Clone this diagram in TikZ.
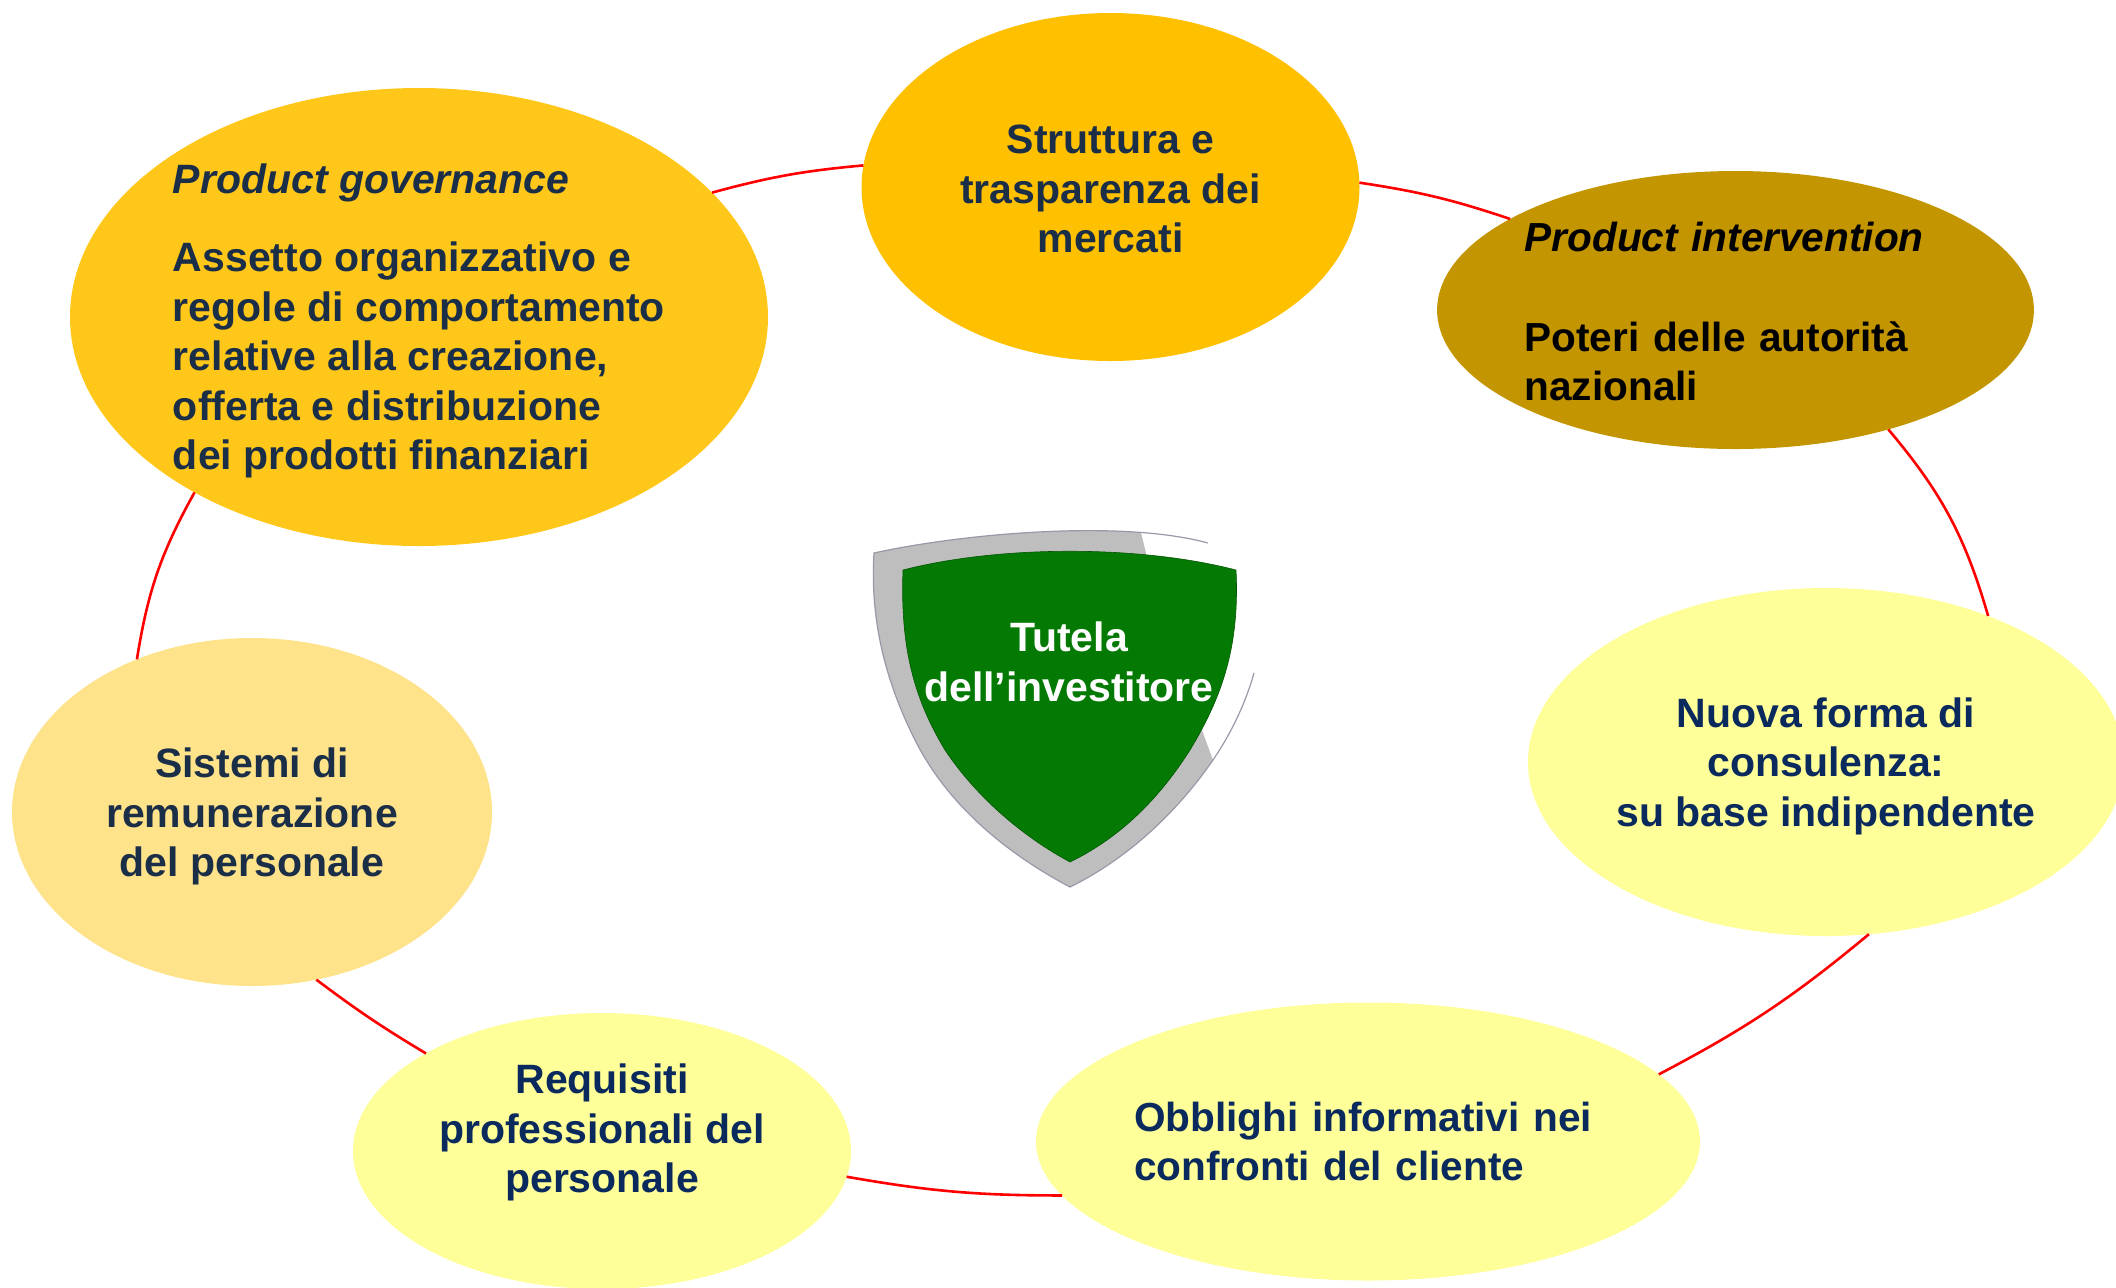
\documentclass[tikz,border=0pt]{standalone}
\usepackage{fontspec}
\setmainfont{Liberation Sans}
\usepackage{xcolor}
\usetikzlibrary{shapes.geometric}
\newcommand*{\topstrut}[1]{\rule{0pt}{#1}}
\newcommand*{\slimfont}{\fontsize{20.3}{24.8}\selectfont\bfseries}
\definecolor{govfill}{HTML}{FFC71A}
\definecolor{strufill}{HTML}{FFC000}
\definecolor{intfill}{HTML}{C39500}
\definecolor{palefill}{HTML}{FFFF99}
\definecolor{remfill}{HTML}{FFE38B}
\definecolor{slatetext}{HTML}{1B2E47}
\definecolor{navytext}{HTML}{0A2A5E}
\definecolor{shieldgray}{HTML}{BEBEBE}
\definecolor{shieldline}{HTML}{9A98A8}
\definecolor{shieldgreen}{HTML}{047A04}
\tikzstyle{bubble}=[shape=ellipse, inner sep=0pt, outer sep=0pt, align=center, text=navytext, font=\fontsize{20.5}{24.8}\selectfont\bfseries]
\tikzstyle{ringline}=[draw=red, line width=1.3pt]

\begin{document}
\begin{tikzpicture}[x=0.5pt,y=0.5pt]
\useasboundingbox (0,0) rectangle (2116,-1287);

\node [bubble, fill=govfill, text=slatetext, align=left, minimum width=349pt, minimum height=229pt] (gov) at (419,-317) {\topstrut{19pt}\textit{Product governance}\\[14.2pt]Assetto organizzativo e\\regole di comportamento\\relative alla creazione,\\offerta e distribuzione\\dei prodotti finanziari};
\node [bubble, fill=strufill, text=slatetext, minimum width=249pt, minimum height=174pt] (stru) at (1110.5,-187) {\topstrut{16.5pt}Struttura e\\trasparenza dei\\mercati};
\node [bubble, fill=intfill, text=black, font=\slimfont, align=left, text width=211pt, minimum width=298pt, minimum height=139pt] (int) at (1735.5,-310) {\topstrut{16.5pt}\textit{Product intervention}\\[24.8pt]Poteri delle autorità\\nazionali};
\node [bubble, fill=palefill, minimum width=298pt, minimum height=174pt] (cons) at (1826,-762) {\topstrut{19pt}Nuova forma di\\consulenza:\\su base indipendente};
\node [bubble, fill=palefill, font=\slimfont, align=left, text width=234pt, minimum width=332pt, minimum height=139pt] (info) at (1368,-1141.5) {Obblighi informativi nei\\confronti del cliente};
\node [bubble, fill=palefill, minimum width=249pt, minimum height=138pt] (req) at (602,-1151) {Requisiti\\professionali del\\personale\\[-2pt]\mbox{}};
\node [bubble, fill=remfill, text=slatetext, minimum width=240pt, minimum height=174pt] (rem) at (252,-812) {\topstrut{19.5pt}Sistemi di\\remunerazione\\del personale};

\draw[ringline] (gov.23) to[bend left=5] (stru.175.5);
\draw[ringline] (stru.1) to[bend left=5] (int.158.5);
\draw[ringline] (int.-38.2) to[bend left=12] (cons.42);
\draw[ringline] (cons.-76.4) to[bend left=6] (info.13);
\draw[ringline] (info.190) to[bend left=5] (req.-6.5);
\draw[ringline] (req.151.5) to[bend left=3] (rem.-69.7);
\draw[ringline] (rem.127.5) to[bend left=10] (gov.218.4);

% shield
\fill[shieldgray] (874,-553) .. controls (941,-538) and (1053,-526) .. (1141,-532.5) -- (1146,-553) -- (1203,-733) -- (1213,-760)
  .. controls (1175,-815) and (1125,-860) .. (1070,-887) .. controls (1000,-850) and (945,-800) .. (915,-740)
  .. controls (885,-680) and (870,-620) .. (874,-553) -- cycle;
\draw[shieldline, line width=0.6pt] (1213,-760) .. controls (1175,-815) and (1125,-860) .. (1070,-887) .. controls (1000,-850) and (945,-800) .. (915,-740)
  .. controls (885,-680) and (870,-620) .. (874,-553) .. controls (960,-534) and (1120,-519) .. (1208,-543);
\draw[shieldline, line width=0.6pt] (1254,-673) .. controls (1245,-705) and (1230,-735) .. (1213,-760);
\filldraw[fill=shieldgreen, draw=shieldgreen!70!black, line width=0.3pt] (903,-570) .. controls (1000,-545) and (1140,-545) .. (1236,-570) .. controls (1240,-650) and (1220,-700) .. (1190,-750)
  .. controls (1155,-805) and (1115,-840) .. (1070,-862) .. controls (1020,-835) and (975,-795) .. (945,-750) .. controls (915,-700) and (900,-650) .. (903,-570) -- cycle;
\node [bubble, text=white] (prot) at (1069,-662) {Tutela\\dell’investitore};
\end{tikzpicture}
\end{document}
